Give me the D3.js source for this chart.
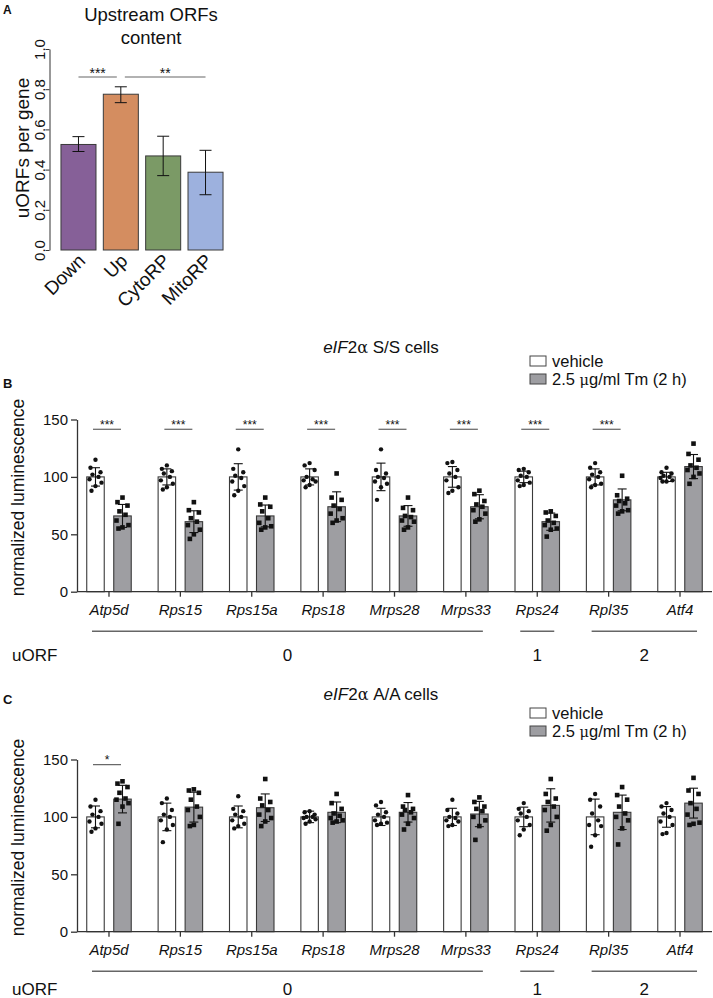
<!DOCTYPE html>
<html><head><meta charset="utf-8">
<script src="https://cdn.jsdelivr.net/npm/d3@7"></script>
<style>
body{margin:0;background:#fff}
svg{display:block}
text{font-family:"Liberation Sans",Arial,Helvetica,sans-serif;fill:#111}
</style>
</head><body>
<svg id="chart" width="713" height="998"></svg>
<script>
// ---------- Panel A data ----------
const aCategories = ["Down", "Up", "CytoRP", "MitoRP"];
const aValues = [0.525, 0.775, 0.468, 0.387];
const aErrLow = [0.490, 0.733, 0.370, 0.275];
const aErrHigh = [0.564, 0.812, 0.566, 0.496];
const aColors = ["#866098", "#d48d60", "#7b9a66", "#9db1de"];
const aTicks = [0, 0.2, 0.4, 0.6, 0.8, 1.0];
const aSig = [{from: "Down", to: "Up", label: "***"}, {from: "Up", to: "MitoRP", label: "**"}];

// ---------- Panels B / C shared ----------
const genes = ["Atp5d", "Rps15", "Rps15a", "Rps18", "Mrps28", "Mrps33", "Rps24", "Rpl35", "Atf4"];
const conditions = ["vehicle", "2.5 \u03bcg/ml Tm (2 h)"];
const lumTicks = [0, 50, 100, 150];
const uorfGroups = [
  {label: "0", from: "Atp5d", to: "Mrps33"},
  {label: "1", from: "Rps24", to: "Rps24"},
  {label: "2", from: "Rpl35", to: "Atf4"}
];

// ---------- Panel B (S/S) ----------
const bMeanVeh = [100, 100, 100, 100, 100, 100, 100, 100, 100];
const bSdVeh   = [8, 7, 11.5, 7, 12, 9, 5, 7, 4];
const bMeanTm  = [66, 61, 66, 74, 66, 74, 61, 80, 109];
const bSdTm    = [10, 9.5, 9.5, 13, 9, 10.5, 7.5, 9.5, 10.5];
const bPtsVeh = [
  [115, 108, 104, 102, 100, 98, 95, 92, 88],
  [110, 107, 105, 103, 100, 97, 94, 91, 89],
  [124, 107, 104, 101, 99, 96, 92, 88, 84],
  [112, 110, 106, 100, 98, 97, 96, 93, 91],
  [124, 106, 103, 100, 99, 96, 94, 91, 80],
  [113, 112, 106, 103, 100, 97, 91, 88, 86],
  [107, 106, 104, 101, 100, 97, 95, 93, 92],
  [112, 108, 104, 102, 100, 98, 94, 93, 91],
  [108, 104, 103, 101, 100, 99, 97, 96, 96]
];
const bPtsTm = [
  [82, 78, 75, 70, 67, 62, 58, 56, 55],
  [78, 71, 69, 64, 61, 58, 54, 50, 46],
  [82, 76, 74, 70, 64, 60, 57, 56, 54],
  [103, 82, 80, 75, 72, 68, 64, 62, 60],
  [82, 73, 71, 66, 65, 62, 61, 56, 54],
  [88, 85, 79, 76, 74, 71, 68, 63, 61],
  [70, 69, 66, 62, 60, 58, 55, 54, 48],
  [101, 84, 81, 79, 77, 75, 71, 70, 68],
  [129, 120, 115, 110, 108, 106, 103, 100, 94]
];
const bSig = ["***", "***", "***", "***", "***", "***", "***", "***", ""];

// ---------- Panel C (A/A) ----------
const cMeanVeh = [100, 100, 100, 100, 100, 100, 100, 100, 100];
const cSdVeh   = [9.5, 12, 9.5, 5, 7.5, 7.5, 8.5, 15.5, 9];
const cMeanTm  = [115.5, 108.5, 108, 104, 104, 102.5, 110, 104, 112];
const cSdTm    = [12, 13, 12, 9, 8.5, 11, 14.5, 15, 13];
const cPtsVeh = [
  [115, 109, 105, 102, 100, 96, 94, 90, 87],
  [116, 112, 106, 102, 100, 97, 93, 89, 78],
  [118, 107, 105, 102, 100, 97, 94, 92, 90],
  [105, 104, 102, 100, 100, 99, 98, 96, 94],
  [113, 110, 104, 102, 100, 97, 95, 94, 93],
  [115, 106, 103, 100, 99, 97, 96, 93, 92],
  [112, 107, 105, 103, 100, 97, 93, 89, 84],
  [120, 115, 109, 103, 97, 93, 92, 84, 74],
  [112, 109, 106, 103, 100, 96, 93, 86, 85]
];
const cPtsTm = [
  [131, 129, 126, 121, 116, 115, 112, 109, 94],
  [124, 123, 121, 115, 109, 106, 100, 93, 92],
  [133, 116, 113, 110, 106, 102, 99, 96, 92],
  [120, 112, 107, 103, 101, 99, 97, 96, 95],
  [119, 109, 107, 106, 104, 102, 99, 94, 89],
  [117, 113, 109, 107, 105, 100, 97, 92, 80],
  [133, 120, 116, 113, 109, 106, 100, 93, 88],
  [126, 119, 115, 109, 103, 100, 97, 90, 76],
  [134, 123, 120, 112, 107, 102, 95, 94, 93]
];
const cSig = ["*", "", "", "", "", "", "", "", ""];

// ---------- drawing ----------
const svg = d3.select("#chart");
const FONT = '"Liberation Sans",Arial,Helvetica,sans-serif';
const AX = "#333";
const JIT = [0, -5, 5, -3, 3, -6, 6, 0, -4];

// ===== Panel A =====
(function () {
  const g = svg.append("g");
  const y = d3.scaleLinear().domain([0, 1]).range([250, 49]);
  const x = d3.scaleBand().domain(aCategories).range([57.3, 226.7]).paddingInner(0.173).paddingOuter(0.0866);

  g.append("text").attr("x", 3).attr("y", 13.5).attr("font-weight", "bold").attr("font-size", 12).text("A");
  g.append("text").attr("x", 151).attr("y", 21).attr("text-anchor", "middle").attr("font-size", 18.5).text("Upstream ORFs");
  g.append("text").attr("x", 151).attr("y", 43.5).attr("text-anchor", "middle").attr("font-size", 18.5).text("content");

  // y axis
  const ax = g.append("g").attr("transform", "translate(49.5,0)")
    .call(d3.axisLeft(y).tickValues(aTicks).tickFormat(d3.format(".1f")).tickSize(4).tickSizeOuter(0));
  ax.select(".domain").attr("stroke", AX);
  ax.selectAll(".tick line").attr("stroke", AX);
  ax.selectAll(".tick text").attr("font-family", FONT).attr("font-size", 15).attr("fill", "#222")
    .attr("transform", "rotate(-90)").attr("x", 0).attr("y", -4.5).attr("dy", 0).attr("text-anchor", "middle");
  g.append("text").attr("transform", "translate(29,148) rotate(-90)").attr("text-anchor", "middle")
    .attr("font-size", 19).text("uORFs per gene");

  // bars
  g.selectAll("rect.a").data(aCategories).join("rect")
    .attr("x", d => x(d)).attr("width", x.bandwidth())
    .attr("y", (d, i) => y(aValues[i])).attr("height", (d, i) => y(0) - y(aValues[i]))
    .attr("fill", (d, i) => aColors[i]).attr("stroke", "#3a3a3a").attr("stroke-width", 1);
  // error bars
  aCategories.forEach((c, i) => {
    const cx = x(c) + x.bandwidth() / 2;
    g.append("line").attr("x1", cx).attr("x2", cx).attr("y1", y(aErrLow[i])).attr("y2", y(aErrHigh[i])).attr("stroke", "#111");
    [aErrLow[i], aErrHigh[i]].forEach(v => g.append("line").attr("x1", cx - 6).attr("x2", cx + 6)
      .attr("y1", y(v)).attr("y2", y(v)).attr("stroke", "#111"));
    g.append("text").attr("transform", `translate(${cx + 8},${262}) rotate(-45)`).attr("text-anchor", "end")
      .attr("font-size", 19).text(c);
  });
  // significance
  aSig.forEach((s, k) => {
    const x1 = x(s.from) + x.bandwidth() / 2 + (k === 0 ? 0 : 4);
    const x2 = x(s.to) + x.bandwidth() / 2 - (k === 0 ? 4 : 0);
    g.append("line").attr("x1", x1).attr("x2", x2).attr("y1", 77).attr("y2", 77).attr("stroke", "#666").attr("stroke-width", 1.2);
    g.append("text").attr("x", (x1 + x2) / 2).attr("y", 77.5).attr("text-anchor", "middle").attr("font-size", 14).text(s.label);
  });
})();

// ===== Panels B / C =====
function drawLum(cfg) {
  const g = svg.append("g");
  const y = d3.scaleLinear().domain([0, 150]).range([cfg.y0, cfg.y0 - 172.2]);
  const x = d3.scaleBand().domain(genes).range([73.3, 715.7]);
  const inner = d3.scaleBand().domain(conditions).range([-22.25, 22.25]).paddingInner(0.352);
  const cx = gname => x(gname) + x.bandwidth() / 2;
  const fills = {"vehicle": "#ffffff"};
  fills[conditions[1]] = "#9e9ea2";

  // panel letter
  g.append("text").attr("x", 3).attr("y", cfg.letterY).attr("font-weight", "bold").attr("font-size", 13).text(cfg.letter);
  // title
  const t = g.append("text").attr("x", 381).attr("y", cfg.titleY).attr("text-anchor", "middle").attr("font-size", 17);
  t.append("tspan").attr("font-style", "italic").text("eIF");
  t.append("tspan").text("2");
  t.append("tspan").attr("font-family", "'DejaVu Serif',serif").attr("font-size", 16).text("\u03b1");
  t.append("tspan").text(" " + cfg.cells);
  // legend
  conditions.forEach((c, i) => {
    const ly = cfg.legY[i];
    g.append("rect").attr("x", 530).attr("y", ly - 5).attr("width", 16).attr("height", 10)
      .attr("fill", fills[c]).attr("stroke", "#444").attr("stroke-width", 1);
    const lt = g.append("text").attr("x", 552).attr("y", ly + 5.5).attr("font-size", 16.5);
    if (i === 0) lt.text(c);
    else {
      lt.append("tspan").text("2.5 ");
      lt.append("tspan").attr("font-family", "'DejaVu Serif',serif").attr("font-size", 14.5).text("\u03bc");
      lt.append("tspan").text("g/ml Tm (2 h)");
    }
  });

  // y axis
  const ax = g.append("g").attr("transform", "translate(77,0)")
    .call(d3.axisLeft(y).tickValues(lumTicks).tickSize(6).tickPadding(3).tickSizeOuter(0));
  ax.select(".domain").attr("stroke", AX).attr("stroke-width", 1.3);
  ax.selectAll(".tick line").attr("stroke", AX).attr("stroke-width", 1.3);
  ax.selectAll(".tick text").attr("font-family", FONT).attr("font-size", 15).attr("fill", "#222");
  g.append("text").attr("transform", `translate(24,${(y(0) + y(150)) / 2 - 8}) rotate(-90)`).attr("text-anchor", "middle")
    .attr("font-size", 17.5).text("normalized luminescence");

  // bars, errors, points
  genes.forEach((gn, gi) => {
    const series = [
      {c: conditions[0], m: cfg.meanVeh[gi], sd: cfg.sdVeh[gi], pts: cfg.ptsVeh[gi], shape: "circle"},
      {c: conditions[1], m: cfg.meanTm[gi], sd: cfg.sdTm[gi], pts: cfg.ptsTm[gi], shape: "square"}
    ];
    series.forEach(s => {
      const bx = cx(gn) + inner(s.c);
      const bc = bx + inner.bandwidth() / 2;
      g.append("rect").attr("x", bx).attr("width", inner.bandwidth())
        .attr("y", y(s.m)).attr("height", y(0) - y(s.m))
        .attr("fill", fills[s.c]).attr("stroke", "#3a3a3a").attr("stroke-width", 1.1);
      g.append("line").attr("x1", bc).attr("x2", bc).attr("y1", y(s.m - s.sd)).attr("y2", y(s.m + s.sd)).attr("stroke", "#111").attr("stroke-width", 1.1);
      [s.m - s.sd, s.m + s.sd].forEach(v => g.append("line").attr("x1", bc - 4.5).attr("x2", bc + 4.5)
        .attr("y1", y(v)).attr("y2", y(v)).attr("stroke", "#111").attr("stroke-width", 1.1));
      s.pts.forEach((v, k) => {
        const px = bc + JIT[k];
        if (s.shape === "circle") g.append("circle").attr("cx", px).attr("cy", y(v)).attr("r", 2.2).attr("fill", "#111");
        else g.append("rect").attr("x", px - 2.3).attr("y", y(v) - 2.3).attr("width", 4.6).attr("height", 4.6).attr("fill", "#111");
      });
    });
    // significance
    if (cfg.sig[gi]) {
      const x1 = cx(gn) - 16, x2 = cx(gn) + 12;
      const ly = y(cfg.sigLevel);
      g.append("line").attr("x1", x1).attr("x2", x2).attr("y1", ly).attr("y2", ly).attr("stroke", "#555").attr("stroke-width", 1.1);
      g.append("text").attr("x", (x1 + x2) / 2).attr("y", ly - 0.5).attr("text-anchor", "middle").attr("font-size", 12).text(cfg.sig[gi]);
    }
    // x tick + label
    g.append("line").attr("x1", cx(gn)).attr("x2", cx(gn)).attr("y1", y(0)).attr("y2", y(0) + 5).attr("stroke", AX).attr("stroke-width", 1.3);
    g.append("text").attr("x", cx(gn)).attr("y", y(0) + 23).attr("text-anchor", "middle").attr("font-style", "italic")
      .attr("font-size", 15).text(gn);
  });
  // x axis baseline
  g.append("line").attr("x1", 77).attr("x2", 712).attr("y1", y(0)).attr("y2", y(0)).attr("stroke", AX).attr("stroke-width", 1.3);

  // uORF groups
  uorfGroups.forEach(u => {
    const x1 = cx(u.from) - 17, x2 = cx(u.to) + 17;
    g.append("line").attr("x1", x1).attr("x2", x2).attr("y1", y(0) + cfg.grpLine).attr("y2", y(0) + cfg.grpLine)
      .attr("stroke", "#666").attr("stroke-width", 1.4);
    g.append("text").attr("x", (x1 + x2) / 2).attr("y", y(0) + cfg.grpText).attr("text-anchor", "middle").attr("font-size", 17).text(u.label);
  });
  g.append("text").attr("x", 12).attr("y", y(0) + cfg.grpText).attr("font-size", 17).text("uORF");
}

drawLum({letter: "B", letterY: 388, titleY: 353, legY: [361, 379], cells: "S/S cells", y0: 591.7,
  meanVeh: bMeanVeh, sdVeh: bSdVeh, meanTm: bMeanTm, sdTm: bSdTm, ptsVeh: bPtsVeh, ptsTm: bPtsTm,
  sig: bSig, sigLevel: 141.5, grpLine: 39.5, grpText: 69});
drawLum({letter: "C", letterY: 704, titleY: 700, legY: [713, 731], cells: "A/A cells", y0: 931.7,
  meanVeh: cMeanVeh, sdVeh: cSdVeh, meanTm: cMeanTm, sdTm: cSdTm, ptsVeh: cPtsVeh, ptsTm: cPtsTm,
  sig: cSig, sigLevel: 145.5, grpLine: 39.5, grpText: 63});
</script>
</body></html>
